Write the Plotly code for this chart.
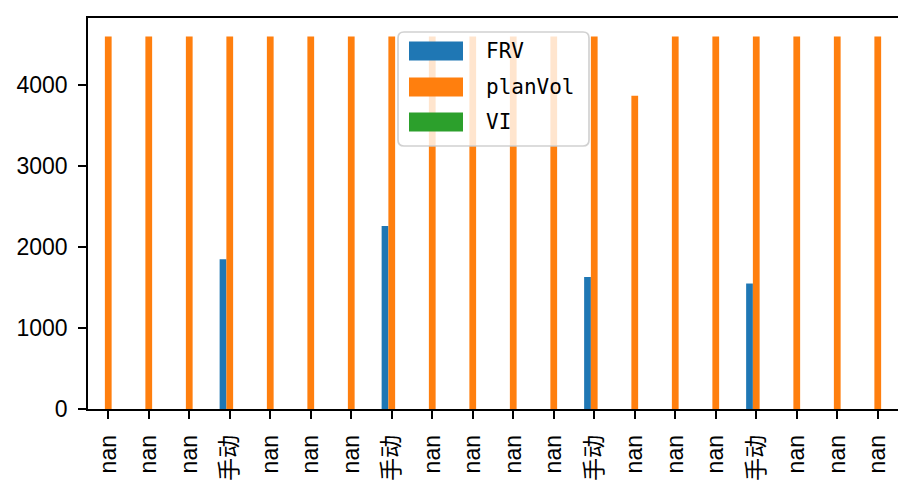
import numpy as np
import plotly.graph_objects as go

# ---- data ----
categories = ["nan", "nan", "nan", "手动", "nan", "nan", "nan", "手动", "nan", "nan",
              "nan", "nan", "手动", "nan", "nan", "nan", "手动", "nan", "nan", "nan"]
frv = [None, None, None, 1850, None, None, None, 2260, None, None,
       None, None, 1630, None, None, None, 1550, None, None, None]
plan_vol = [4600, 4600, 4600, 4600, 4600, 4600, 4600, 4600, 4600, 4600,
            4600, 4600, 4600, 3870, 4600, 4600, 4600, 4600, 4600, 4600]
vi = [None] * 20
series_names = ["FRV", "planVol", "VI"]
colors = ["#1f77b4", "#ff7f0e", "#2ca02c"]
y_ticks = [0, 1000, 2000, 3000, 4000]

W, H = 898, 481
# plot area in pixels
L, T, R_EDGE, B_EDGE = 88, 18, 898, 409

x = list(range(len(categories)))
fig = go.Figure()
for name, vals, col in zip(series_names, [frv, plan_vol, vi], colors):
    fig.add_trace(go.Bar(x=x, y=vals, name=name, marker=dict(color=col, line=dict(width=0)),
                         showlegend=False))

ymax = max(plan_vol) * 1.05
tick_font = dict(family="Liberation Sans, Noto Sans CJK SC", size=23, color="black")
fig.update_layout(
    width=W, height=H,
    margin=dict(l=L, r=W - R_EDGE, t=T, b=H - B_EDGE, pad=0),
    paper_bgcolor="white", plot_bgcolor="white",
    barmode="group", bargap=0.5, bargroupgap=0,
    xaxis=dict(range=[-0.5, len(categories) - 0.5], tickmode="array", tickvals=x,
               ticktext=categories, tickangle=-90, showgrid=False, zeroline=False,
               showline=True, mirror=True, linecolor="black", linewidth=1.7,
               ticks="outside", ticklen=8, tickwidth=1.7, tickcolor="black",
               ticklabelstandoff=7, tickfont=tick_font),
    yaxis=dict(range=[0, ymax], tickmode="array", tickvals=y_ticks,
               ticktext=[str(v) for v in y_ticks], showgrid=False, zeroline=False,
               showline=True, linecolor="black", linewidth=1.7,
               ticks="outside", ticklen=8, tickwidth=1.7, tickcolor="black",
               ticklabelstandoff=6, tickfont=tick_font),
)

# ---- custom legend (matplotlib style) ----
pw, ph = R_EDGE - L, B_EDGE - T
def px(v):
    return (v - L) / pw
def py(v):
    return (B_EDGE - v) / ph

bx0, bx1, by0, by1, rr = 398, 589, 32, 146, 6
path = (f"M {px(bx0 + rr)} {py(by0)} L {px(bx1 - rr)} {py(by0)} "
        f"Q {px(bx1)} {py(by0)} {px(bx1)} {py(by0 + rr)} "
        f"L {px(bx1)} {py(by1 - rr)} Q {px(bx1)} {py(by1)} {px(bx1 - rr)} {py(by1)} "
        f"L {px(bx0 + rr)} {py(by1)} Q {px(bx0)} {py(by1)} {px(bx0)} {py(by1 - rr)} "
        f"L {px(bx0)} {py(by0 + rr)} Q {px(bx0)} {py(by0)} {px(bx0 + rr)} {py(by0)} Z")
fig.add_shape(type="path", path=path, xref="paper", yref="paper", layer="above",
              fillcolor="rgba(255,255,255,0.8)", line=dict(color="rgba(204,204,204,0.9)", width=1.7))

row_centers = [51, 87, 122]
for name, col, cy in zip(series_names, colors, row_centers):
    fig.add_shape(type="rect", xref="paper", yref="paper", layer="above",
                  x0=px(409), x1=px(463), y0=py(cy - 9.5), y1=py(cy + 9.5),
                  fillcolor=col, line=dict(width=0))
    fig.add_annotation(x=px(484), y=py(cy), xref="paper", yref="paper", text=name,
                       showarrow=False, xanchor="left", yanchor="middle",
                       font=dict(family="DejaVu Sans Mono", size=21, color="black"))

fig.write_html("out.html", config={"displayModeBar": False},
               post_script="document.body.style.margin='0';document.body.style.overflow='hidden';")
